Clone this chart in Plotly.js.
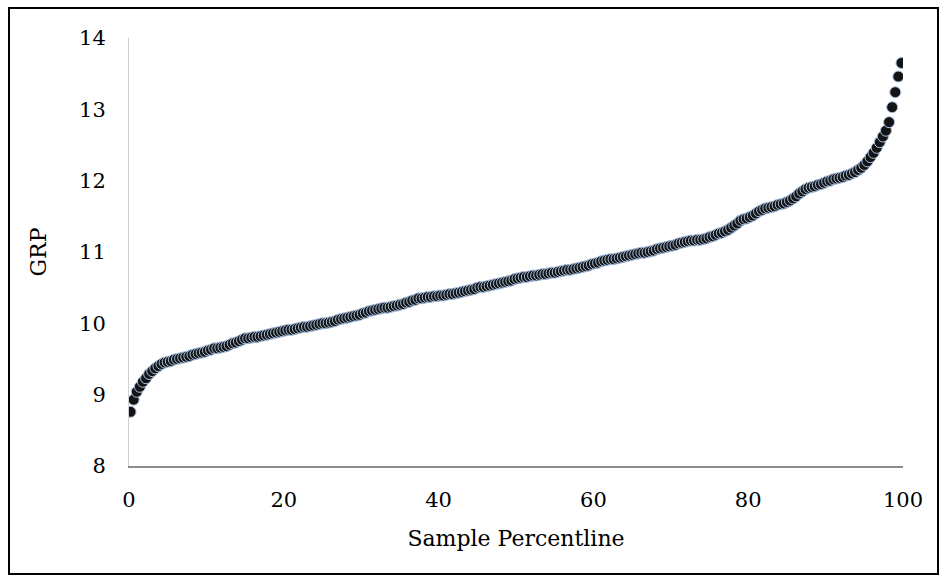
<!DOCTYPE html>
<html>
<head>
<meta charset="utf-8">
<script src="https://cdn.plot.ly/plotly-3.0.1.min.js"></script>
<style>
  html, body { margin: 0; padding: 0; background: #fff; }
  #wrap { position: relative; width: 945px; height: 581px; }
  #chart { position: absolute; left: 0; top: 0; width: 945px; height: 581px; }
  #frame { position: absolute; left: 8px; top: 7px; width: 927px; height: 564px; border: 2px solid #000; pointer-events: none; }
</style>
</head>
<body>
<div id="wrap"><div id="chart"></div><div id="frame"></div></div>
<script>
// Sorted GRP values (one per sample, in percentile order)
const grpValues = [
  8.76, 8.93, 9.04, 9.11, 9.18, 9.23, 9.29, 9.33, 9.37, 9.40,
  9.43, 9.45, 9.46, 9.47, 9.49, 9.50, 9.51, 9.52, 9.53, 9.54,
  9.56, 9.57, 9.58, 9.59, 9.60, 9.62, 9.63, 9.65, 9.65, 9.66,
  9.67, 9.68, 9.70, 9.72, 9.73, 9.75, 9.77, 9.79, 9.79, 9.80,
  9.81, 9.81, 9.82, 9.83, 9.84, 9.85, 9.86, 9.87, 9.88, 9.89,
  9.90, 9.91, 9.91, 9.92, 9.93, 9.94, 9.95, 9.95, 9.96, 9.97,
  9.98, 9.99, 10.00, 10.00, 10.01, 10.02, 10.03, 10.05, 10.06, 10.07,
  10.08, 10.09, 10.10, 10.11, 10.12, 10.14, 10.15, 10.17, 10.18, 10.19,
  10.20, 10.21, 10.22, 10.22, 10.23, 10.24, 10.25, 10.26, 10.27, 10.29,
  10.30, 10.32, 10.33, 10.35, 10.35, 10.36, 10.37, 10.37, 10.38, 10.38,
  10.39, 10.39, 10.40, 10.41, 10.41, 10.42, 10.43, 10.44, 10.45, 10.46,
  10.47, 10.48, 10.50, 10.51, 10.51, 10.52, 10.53, 10.54, 10.55, 10.56,
  10.57, 10.58, 10.59, 10.60, 10.62, 10.63, 10.64, 10.65, 10.65, 10.66,
  10.67, 10.67, 10.68, 10.69, 10.69, 10.70, 10.71, 10.71, 10.72, 10.73,
  10.74, 10.75, 10.75, 10.76, 10.77, 10.78, 10.79, 10.80, 10.81, 10.83,
  10.84, 10.85, 10.87, 10.88, 10.89, 10.90, 10.90, 10.91, 10.92, 10.93,
  10.94, 10.95, 10.96, 10.97, 10.98, 10.99, 10.99, 11.00, 11.01, 11.02,
  11.04, 11.05, 11.06, 11.07, 11.08, 11.09, 11.10, 11.12, 11.13, 11.14,
  11.15, 11.16, 11.16, 11.17, 11.17, 11.18, 11.19, 11.21, 11.22, 11.24,
  11.26, 11.27, 11.29, 11.31, 11.34, 11.37, 11.40, 11.44, 11.46, 11.47,
  11.49, 11.51, 11.54, 11.57, 11.59, 11.61, 11.62, 11.63, 11.64, 11.66,
  11.67, 11.68, 11.70, 11.72, 11.75, 11.78, 11.82, 11.85, 11.88, 11.90,
  11.91, 11.92, 11.94, 11.95, 11.97, 11.99, 12.00, 12.02, 12.03, 12.04,
  12.05, 12.07, 12.08, 12.10, 12.12, 12.15, 12.18, 12.22, 12.27, 12.33,
  12.39, 12.46, 12.54, 12.62, 12.70, 12.82, 13.03, 13.24, 13.46, 13.65
];
// Sample percentile of each sorted value (rank-based)
const samplePercentile = grpValues.map((v, i) => (i + 0.5) / grpValues.length * 100);

const xTickValues = [0, 20, 40, 60, 80, 100];
const yTickValues = [8, 9, 10, 11, 12, 13, 14];

const fontFamily = '"DejaVu Serif", "Liberation Serif", serif';

const trace = {
  type: 'scatter',
  mode: 'markers',
  x: samplePercentile,
  y: grpValues,
  marker: {
    size: 11,
    color: '#141414',
    line: { color: '#a9c3e3', width: 1 }
  },
  hoverinfo: 'x+y'
};

const layout = {
  width: 945,
  height: 581,
  margin: { l: 129, r: 42, t: 38, b: 115 },
  paper_bgcolor: '#ffffff',
  plot_bgcolor: '#ffffff',
  showlegend: false,
  font: { family: fontFamily, size: 21, color: '#000' },
  xaxis: {
    range: [0, 100],
    tickvals: xTickValues,
    ticktext: xTickValues.map(String),
    showgrid: false,
    zeroline: false,
    showline: true,
    linecolor: '#8c8c8c',
    linewidth: 1.5,
    ticks: 'outside',
    ticklen: 14,
    tickcolor: 'rgba(0,0,0,0)',
    tickfont: { family: fontFamily, size: 21, color: '#000' },
    title: { text: 'Sample Percentline', font: { family: fontFamily, size: 22, color: '#000' }, standoff: 20 },
    fixedrange: true
  },
  yaxis: {
    range: [8, 14],
    tickvals: yTickValues,
    ticktext: yTickValues.map(String),
    showgrid: false,
    zeroline: false,
    showline: true,
    linecolor: '#d0d0d0',
    linewidth: 1,
    ticks: 'outside',
    ticklen: 18,
    tickcolor: 'rgba(0,0,0,0)',
    tickfont: { family: fontFamily, size: 21, color: '#000' },
    title: { text: 'GRP', font: { family: fontFamily, size: 22, color: '#000' }, standoff: 26 },
    fixedrange: true
  }
};

Plotly.newPlot('chart', [trace], layout, { staticPlot: true, displayModeBar: false });
</script>
</body>
</html>
